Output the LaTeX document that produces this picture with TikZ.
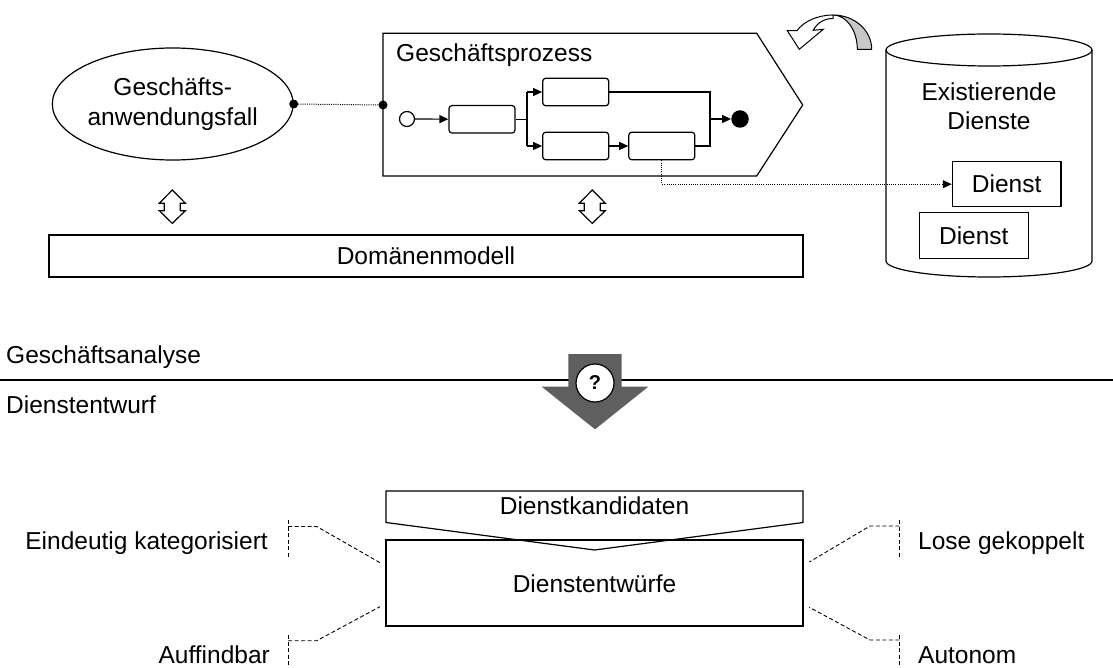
\documentclass[tikz,border=0pt]{standalone}
\usepackage{fontspec}
\setmainfont{Liberation Sans}
\usetikzlibrary{arrows.meta,shapes.geometric,calc}
\definecolor{arrgray}{HTML}{5F5F5F}
\definecolor{lightgray2}{HTML}{C8C8C8}
\begin{document}
\begin{tikzpicture}[x=1pt,y=-1pt,
  font=\fontsize{24.5}{30}\selectfont,
  lw/.style={line width=1.2pt},
  box/.style={draw,lw,rectangle,inner sep=0pt},
  act/.style={draw,lw,rounded corners=3pt,minimum width=66pt,minimum height=27.5pt,inner sep=0pt},
  flow/.style={lw,-{Triangle[length=9pt,width=8pt]}},
  dotc/.style={line width=1pt,dash pattern=on 1pt off 1.2pt},
  callout/.style={line width=0.9pt,dash pattern=on 4pt off 2.5pt},
  lbl/.style={inner sep=0pt},
  udarrow/.pic={\draw[lw,fill=white] (0,-16.7) -- (13,-3.5) -- (8,-3.5) -- (8,4) -- (13,4) -- (0,16.7) -- (-13,4) -- (-8,4) -- (-8,-3.5) -- (-13,-3.5) -- cycle;}
]
\useasboundingbox (0,0) rectangle (1113,668);
\fill[white] (0,0) rectangle (1113,668);

% ---------- use case ellipse ----------
\node[ellipse,draw,lw,minimum width=240pt,minimum height=112pt,align=center,inner sep=0pt] (uc) at (172.7,104) {Geschäfts-\\anwendungsfall};

% ---------- business process shape ----------
\draw[lw] (383,33.3) coordinate (gptl) -- (756.7,33.3) -- (802.7,105) coordinate (gptip) -- (756.7,176) -- (383,176) coordinate (gpbl) -- cycle;
\coordinate (gpl) at (383,105);
\node[lbl,anchor=west] (gpt) at (396,55) {Geschäftsprozess};

\draw[dotc] (uc.east) -- (gpl);
\fill (uc.east) circle[radius=4.5];
\fill (gpl) circle[radius=4.5];

% flow inside
\node[circle,draw,lw,minimum size=15pt,inner sep=0pt] (s) at (407,119) {};
\node[act] (b1) at (482,119.3) {};
\node[act] (b2) at (575.7,92) {};
\node[act] (b3) at (575.7,146) {};
\node[act] (b4) at (661.8,146) {};
\node[circle,fill=black,minimum size=17.5pt,inner sep=0pt] (e) at (740,119) {};
\coordinate (split) at (527,119.3);
\coordinate (splitT) at (527,92);
\coordinate (splitB) at (527,146);
\coordinate (join) at (710,119);

\draw[flow] (s) -- (b1);
\draw[lw] (b1.east) -- (split);
\draw[lw] (splitT) -- (splitB);
\draw[flow] (splitT) -- (b2.west);
\draw[flow] (splitB) -- (b3.west);
\draw[flow] (b3) -- (b4);
\draw[lw] (b2.east) -| (join);
\draw[lw] (b4.east) -| (join);
\draw[flow] (join) -- (e.west);

% ---------- curved arrow ----------
\draw[lw,line width=1pt,fill=lightgray2] (871.7,49.3) arc[start angle=0,end angle=-90,x radius=38.7,y radius=34.3]
   arc[start angle=-90,end angle=0,x radius=24.3,y radius=34.3] -- cycle;
\draw[line width=1pt,fill=white,line join=miter] (833,15) .. controls (817,15) and (803,22) .. (797,30.7)
   -- (787.3,30.7) -- (799.3,49.3) -- (823.3,29.3) -- (813.3,30.3)
   .. controls (817,23) and (824,18.5) .. (833,18.5) -- cycle;

% ---------- cylinder ----------
\draw[lw,fill=white] (886,50) -- (886,261) arc[start angle=180,end angle=0,x radius=103,y radius=16] -- (1092,50);
\draw[lw] (989,50) ellipse[x radius=103,y radius=16];
\node[align=center,lbl,font=\fontsize{24.5}{28.5}\selectfont] (exd) at (989,106) {Existierende\\Dienste};
\node[box,minimum width=108.7pt,minimum height=45pt] (d1) at (1006.7,184.2) {Dienst};
\node[box,minimum width=109pt,minimum height=46pt] (d2) at (973.8,235.3) {Dienst};

\draw[dotc,-{Triangle[length=9pt,width=8pt]}] (b4.south) |- (d1.west);

% ---------- double arrows ----------
\pic (ua1) at (172.3,206.7) {udarrow};
\pic (ua2) at (592.3,206.7) {udarrow};

% ---------- domain model ----------
\node[box,minimum width=754pt,minimum height=42pt] (dm) at (426,256) {Domänenmodell};

% ---------- separator ----------
\coordinate (sepL) at (0,380);
\coordinate (sepR) at (1113,380);
\draw[lw] (sepL) -- (sepR);
\node[lbl,anchor=west] (ga) at (6,357) {Geschäftsanalyse};
\node[lbl,anchor=west] (de) at (6,405) {Dienstentwurf};

\fill[arrgray] (568.3,354) -- (621.7,354) -- (621.7,386.7) -- (648.3,386.7) -- (595,429.3) -- (541.7,386.7) -- (568.3,386.7) -- cycle;
\node[circle,draw,lw,fill=white,minimum size=38pt,inner sep=0pt,font=\fontsize{20}{24}\selectfont\bfseries] (q) at (595,383) {?};

% ---------- service candidates / designs ----------
\draw[lw] (386,491) coordinate (dktl) -- (803,491) -- (803,522.5) -- (594.5,550) -- (386,522.5) -- cycle;
\node[lbl] (dk) at (594.5,506) {Dienstkandidaten};
\node[box,minimum width=417pt,minimum height=86pt] (dw) at (594.5,583) {};
\node[lbl] (dwt) at (594.5,584) {Dienstentwürfe};

% callouts
\coordinate (c1a) at (288,520); \coordinate (c1b) at (288,557);
\coordinate (c1h) at (288,526.5); \coordinate (c1k) at (316.7,526.5); \coordinate (c1e) at (380,562.7);
\draw[callout] (c1a) -- (c1b);
\draw[callout] (c1h) -- (c1k) -- (c1e);
\node[lbl,anchor=east] (l1) at (268,543) {Eindeutig kategorisiert};

\coordinate (c2a) at (288,635); \coordinate (c2b) at (288,668);
\coordinate (c2h) at (288,640.7); \coordinate (c2k) at (316.7,640.7); \coordinate (c2e) at (380,606.7);
\draw[callout] (c2a) -- (c2b);
\draw[callout] (c2h) -- (c2k) -- (c2e);
\node[lbl,anchor=east] (l2) at (270,655) {Auffindbar};

\coordinate (c3a) at (899.3,520); \coordinate (c3b) at (899.3,557);
\coordinate (c3h) at (899.3,526); \coordinate (c3k) at (870,526); \coordinate (c3e) at (809.3,562);
\draw[callout] (c3a) -- (c3b);
\draw[callout] (c3h) -- (c3k) -- (c3e);
\node[lbl,anchor=west] (l3) at (918,543) {Lose gekoppelt};

\coordinate (c4a) at (899.3,635); \coordinate (c4b) at (899.3,668);
\coordinate (c4h) at (899.3,640); \coordinate (c4k) at (870,640); \coordinate (c4e) at (809.3,607.3);
\draw[callout] (c4a) -- (c4b);
\draw[callout] (c4h) -- (c4k) -- (c4e);
\node[lbl,anchor=west] (l4) at (918,655) {Autonom};
\end{tikzpicture}
\end{document}
